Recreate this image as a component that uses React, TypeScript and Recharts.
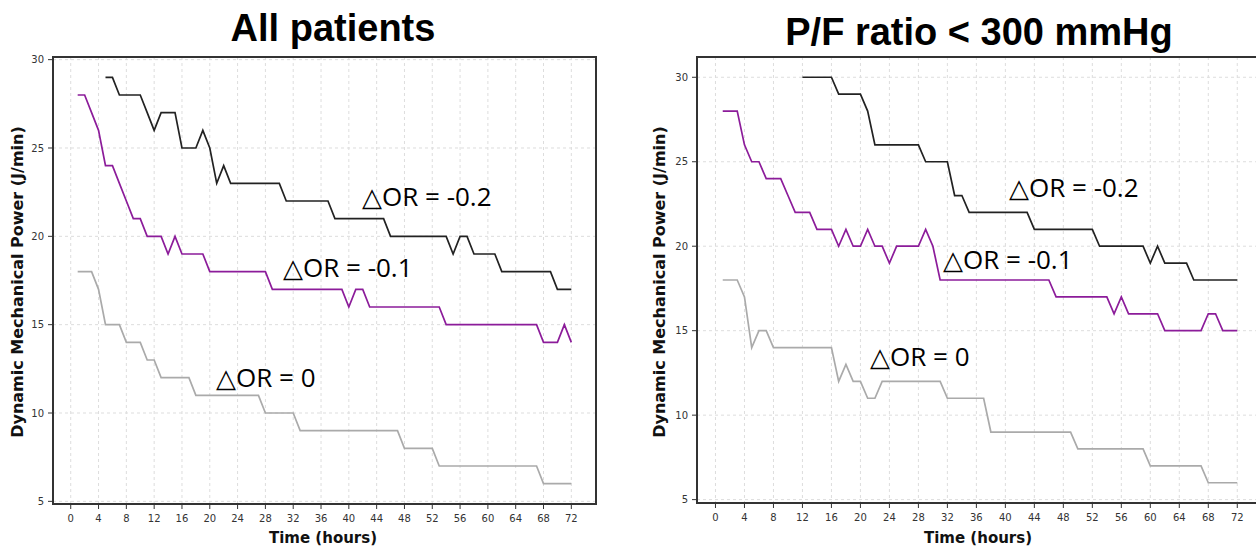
import { LineChart, Line, XAxis, YAxis, CartesianGrid, ReferenceArea } from "recharts";

// hours 1..72
const hours = Array.from({ length: 72 }, (_, i) => i + 1);

// All patients
const allOrM02 = [
    null, null, null, null, 29, 29, 28, 28, 28, 28, 27, 26, 27, 27, 27, 25, 25, 25, 26, 25, 23, 24,
    23, 23, 23, 23, 23, 23, 23, 23, 22, 22, 22, 22, 22, 22, 22, 21, 21, 21, 21, 21, 21, 21, 21,
    20, 20, 20, 20, 20, 20, 20, 20, 20, 19, 20, 20, 19, 19, 19, 19, 18, 18, 18, 18, 18, 18, 18, 18,
    17, 17, 17,
];
const allOrM01 = [
    28, 28, 27, 26, 24, 24, 23, 22, 21, 21, 20, 20, 20, 19, 20, 19, 19, 19, 19, 18, 18, 18, 18, 18,
    18, 18, 18, 18, 17, 17, 17, 17, 17, 17, 17, 17, 17, 17, 17, 16, 17, 17, 16, 16, 16, 16, 16, 16,
    16, 16, 16, 16, 16, 15, 15, 15, 15, 15, 15, 15, 15, 15, 15, 15, 15, 15, 15, 14, 14, 14, 15, 14,
];
const allOr0 = [
    18, 18, 18, 17, 15, 15, 15, 14, 14, 14, 13, 13, 12, 12, 12, 12, 12, 11, 11, 11, 11, 11, 11, 11,
    11, 11, 11, 10, 10, 10, 10, 10, 9, 9, 9, 9, 9, 9, 9, 9, 9, 9, 9, 9, 9, 9, 9, 8, 8, 8, 8, 8, 7,
    7, 7, 7, 7, 7, 7, 7, 7, 7, 7, 7, 7, 7, 7, 6, 6, 6, 6, 6,
];

// P/F ratio < 300 mmHg
const pfOrM02 = [
    null, null, null, null, null, null, null, null, null, null, null, 30, 30, 30, 30, 30, 29, 29, 29,
    29, 28, 26, 26, 26, 26, 26, 26, 26, 25, 25, 25, 25, 23, 23, 22, 22, 22, 22, 22, 22, 22, 22, 22,
    21, 21, 21, 21, 21, 21, 21, 21, 21, 20, 20, 20, 20, 20, 20, 20, 19, 20, 19, 19, 19, 19, 18, 18,
    18, 18, 18, 18, 18,
];
const pfOrM01 = [
    28, 28, 28, 26, 25, 25, 24, 24, 24, 23, 22, 22, 22, 21, 21, 21, 20, 21, 20, 20, 21, 20, 20, 19,
    20, 20, 20, 20, 21, 20, 18, 18, 18, 18, 18, 18, 18, 18, 18, 18, 18, 18, 18, 18, 18, 18, 17, 17,
    17, 17, 17, 17, 17, 17, 16, 17, 16, 16, 16, 16, 16, 15, 15, 15, 15, 15, 15, 16, 16, 15, 15, 15,
];
const pfOr0 = [
    18, 18, 18, 17, 14, 15, 15, 14, 14, 14, 14, 14, 14, 14, 14, 14, 12, 13, 12, 12, 11, 11, 12, 12,
    12, 12, 12, 12, 12, 12, 12, 11, 11, 11, 11, 11, 11, 9, 9, 9, 9, 9, 9, 9, 9, 9, 9, 9, 9, 8, 8, 8,
    8, 8, 8, 8, 8, 8, 8, 7, 7, 7, 7, 7, 7, 7, 7, 6, 6, 6, 6, 6,
];

const xTicks = [0, 4, 8, 12, 16, 20, 24, 28, 32, 36, 40, 44, 48, 52, 56, 60, 64, 68, 72];
const yTicks = [5, 10, 15, 20, 25, 30];

function buildRows(a: (number | null)[], b: (number | null)[], c: (number | null)[]) {
    return hours.map((h, i) => ({ h, m02: a[i], m01: b[i], z: c[i] }));
}

const tickStyle = { fontSize: 10, fill: "#333", fontFamily: "DejaVu Sans" };
const boldLabel = {
    position: "absolute" as const,
    fontFamily: "DejaVu Sans",
    fontWeight: "bold" as const,
    fontSize: 15,
    lineHeight: "15px",
    whiteSpace: "nowrap" as const,
    color: "#111",
};
const orLabel = {
    position: "absolute" as const,
    fontFamily: "Open Sans, DejaVu Sans",
    fontSize: 26,
    lineHeight: "26px",
    whiteSpace: "nowrap" as const,
    color: "#000",
};

type PanelProps = {
    left: number;
    width: number;
    marginRight: number;
    yWidth: number;
    xHeight: number;
    yDomain: [number, number];
    rows: ReturnType<typeof buildRows>;
};

function Panel({ left, width, marginRight, yWidth, xHeight, yDomain, rows }: PanelProps) {
    const xDomain: [number, number] = [-2.55, 75.55];
    return (
        <div style={{ position: "absolute", left, top: 0 }}>
            <LineChart
                width={width}
                height={546}
                data={rows}
                margin={{ top: 57, right: marginRight, left: 0, bottom: 0 }}
            >
                <CartesianGrid stroke="#dddddd" strokeDasharray="3 3" />
                <XAxis
                    dataKey="h"
                    type="number"
                    domain={xDomain}
                    ticks={xTicks}
                    allowDataOverflow
                    height={xHeight}
                    axisLine={false}
                    tickLine={{ stroke: "#333" }}
                    tickSize={5}
                    tickMargin={6}
                    tick={tickStyle}
                    interval={0}
                />
                <YAxis
                    type="number"
                    domain={yDomain}
                    ticks={yTicks}
                    allowDataOverflow
                    width={yWidth}
                    axisLine={false}
                    tickLine={{ stroke: "#333" }}
                    tickSize={5}
                    tickMargin={4}
                    tick={tickStyle}
                    interval={0}
                />
                <ReferenceArea
                    x1={xDomain[0]}
                    x2={xDomain[1]}
                    y1={yDomain[0]}
                    y2={yDomain[1]}
                    fill="none"
                    stroke="#333"
                    strokeWidth={2}
                    fillOpacity={0}
                />
                <Line dataKey="z" stroke="#aaaaaa" strokeWidth={1.7} dot={false} isAnimationActive={false} />
                <Line dataKey="m01" stroke="#8c1c9a" strokeWidth={1.7} dot={false} isAnimationActive={false} />
                <Line dataKey="m02" stroke="#222222" strokeWidth={1.7} dot={false} isAnimationActive={false} />
            </LineChart>
        </div>
    );
}

export default function App() {
    return (
        <div
            style={{
                position: "absolute",
                left: 0,
                top: 0,
                width: 1256,
                height: 546,
                overflow: "hidden",
                background: "#fff",
            }}
        >
            <Panel
                left={0}
                width={620}
                marginRight={24}
                yWidth={53}
                xHeight={42}
                yDomain={[4.85, 30.15]}
                rows={buildRows(allOrM02, allOrM01, allOr0)}
            />
            <Panel
                left={640}
                width={630}
                marginRight={7}
                yWidth={57}
                xHeight={43}
                yDomain={[4.8, 31.2]}
                rows={buildRows(pfOrM02, pfOrM01, pfOr0)}
            />

            <div
                style={{
                    position: "absolute",
                    left: 333,
                    top: 28,
                    transform: "translate(-50%, -50%)",
                    fontFamily: "Liberation Sans, Arial",
                    fontWeight: "bold",
                    fontSize: 38,
                    lineHeight: "38px",
                    whiteSpace: "nowrap",
                }}
            >
                All patients
            </div>
            <div
                style={{
                    position: "absolute",
                    left: 979,
                    top: 32,
                    transform: "translate(-50%, -50%)",
                    fontFamily: "Liberation Sans, Arial",
                    fontWeight: "bold",
                    fontSize: 38,
                    lineHeight: "38px",
                    whiteSpace: "nowrap",
                }}
            >
                P/F ratio &lt; 300 mmHg
            </div>

            <div style={{ ...boldLabel, left: 323, top: 538, transform: "translate(-50%, -50%)" }}>
                Time (hours)
            </div>
            <div style={{ ...boldLabel, left: 978, top: 538, transform: "translate(-50%, -50%)" }}>
                Time (hours)
            </div>
            <div
                style={{
                    ...boldLabel,
                    fontSize: 16,
                    lineHeight: "16px",
                    left: 18,
                    top: 282,
                    transform: "translate(-50%, -50%) rotate(-90deg)",
                }}
            >
                Dynamic Mechanical Power (J/min)
            </div>
            <div
                style={{
                    ...boldLabel,
                    fontSize: 16,
                    lineHeight: "16px",
                    left: 660,
                    top: 282,
                    transform: "translate(-50%, -50%) rotate(-90deg)",
                }}
            >
                Dynamic Mechanical Power (J/min)
            </div>

            <div style={{ ...orLabel, left: 362, top: 183 }}>△OR = -0.2</div>
            <div style={{ ...orLabel, left: 283, top: 254 }}>△OR = -0.1</div>
            <div style={{ ...orLabel, left: 216, top: 364 }}>△OR = 0</div>
            <div style={{ ...orLabel, left: 1009, top: 174 }}>△OR = -0.2</div>
            <div style={{ ...orLabel, left: 943, top: 246 }}>△OR = -0.1</div>
            <div style={{ ...orLabel, left: 870, top: 343 }}>△OR = 0</div>
        </div>
    );
}
